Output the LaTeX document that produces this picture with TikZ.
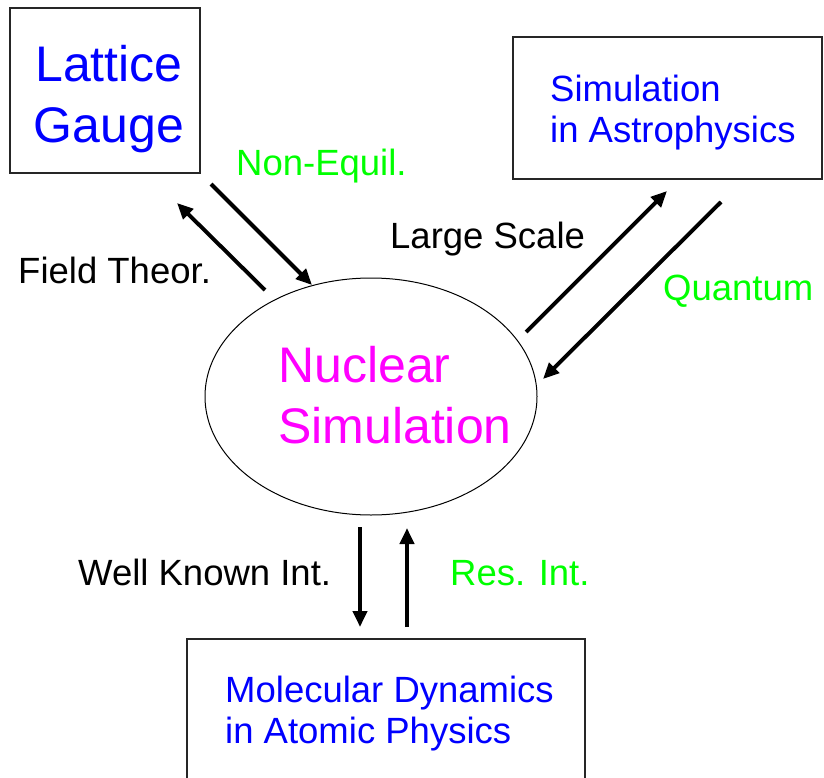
\documentclass[tikz,border=0pt]{standalone}
\usepackage{fontspec}
\setmainfont{Liberation Sans}
\usetikzlibrary{arrows.meta,shapes.geometric}
\definecolor{tblue}{RGB}{0,0,255}
\definecolor{tmag}{RGB}{255,0,255}
\definecolor{tgreen}{RGB}{0,255,0}
\tikzset{
  frame/.style={draw=black!85, line width=1.3pt, inner sep=0pt},
  bigtxt/.style={font=\fontsize{50}{61}\selectfont, inner sep=0pt},
  midtxt/.style={font=\fontsize{36.5}{41}\selectfont, inner sep=0pt, text=tblue, align=left},
  lbl/.style={font=\fontsize{36.5}{41}\selectfont, inner sep=0pt, anchor=base west},
  flow/.style={line width=3.9pt, -{Triangle[length=16pt,width=14pt]}}
}
\begin{document}
\begin{tikzpicture}[x=1pt,y=-1pt]
\useasboundingbox (0,0) rectangle (824,778);
\clip (0,0) rectangle (824,778);
% boxes
\node[frame, minimum width=190pt, minimum height=165pt] (lg) at (105,90.5) {};
\node[bigtxt, text=tblue, align=center] (lgt) at (109,99) {Lattice\\Gauge};
\node[frame, minimum width=309pt, minimum height=142pt] (ap) at (667.5,108) {};
\node[midtxt, anchor=west] (apt) at (550,112.5) {Simulation\\in Astrophysics};
\node[frame, minimum width=398pt, minimum height=200pt] (md) at (386,739) {};
\node[midtxt, anchor=west] (mdt) at (225,714) {Molecular Dynamics\\in Atomic Physics};
% central ellipse
\node[ellipse, draw, line width=1pt, minimum width=332pt, minimum height=237pt, inner sep=0pt] (ns) at (371,396.5) {};
\node[bigtxt, text=tmag, align=left, anchor=west] (nst) at (278,395) {Nuclear\\Simulation};
% arrow end points
\coordinate (ftS) at (265,290); \coordinate (ftE) at (177,203);
\coordinate (neS) at (211,184); \coordinate (neE) at (312,285);
\coordinate (lsS) at (526,332); \coordinate (lsE) at (667,191);
\coordinate (quS) at (721,202); \coordinate (quE) at (543,379);
\coordinate (wkS) at (360,527); \coordinate (wkE) at (360,627);
\coordinate (riS) at (407,627); \coordinate (riE) at (407,528);
\draw[flow] (ftS) -- (ftE);
\draw[flow] (neS) -- (neE);
\draw[flow] (lsS) -- (lsE);
\draw[flow] (quS) -- (quE);
\draw[flow] (wkS) -- (wkE);
\draw[flow] (riS) -- (riE);
% labels
\node[lbl, text=tgreen] (lne) at (236,176) {Non-Equil.};
\node[lbl] (lft) at (18,283) {Field Theor.};
\node[lbl] (lls) at (390,248) {Large Scale};
\node[lbl, text=tgreen] (lqu) at (663,300) {Quantum};
\node[lbl] (lwk) at (78,585) {Well Known Int.};
\node[lbl, text=tgreen] (lri) at (450,585) {Res. Int.};
\end{tikzpicture}
\end{document}
